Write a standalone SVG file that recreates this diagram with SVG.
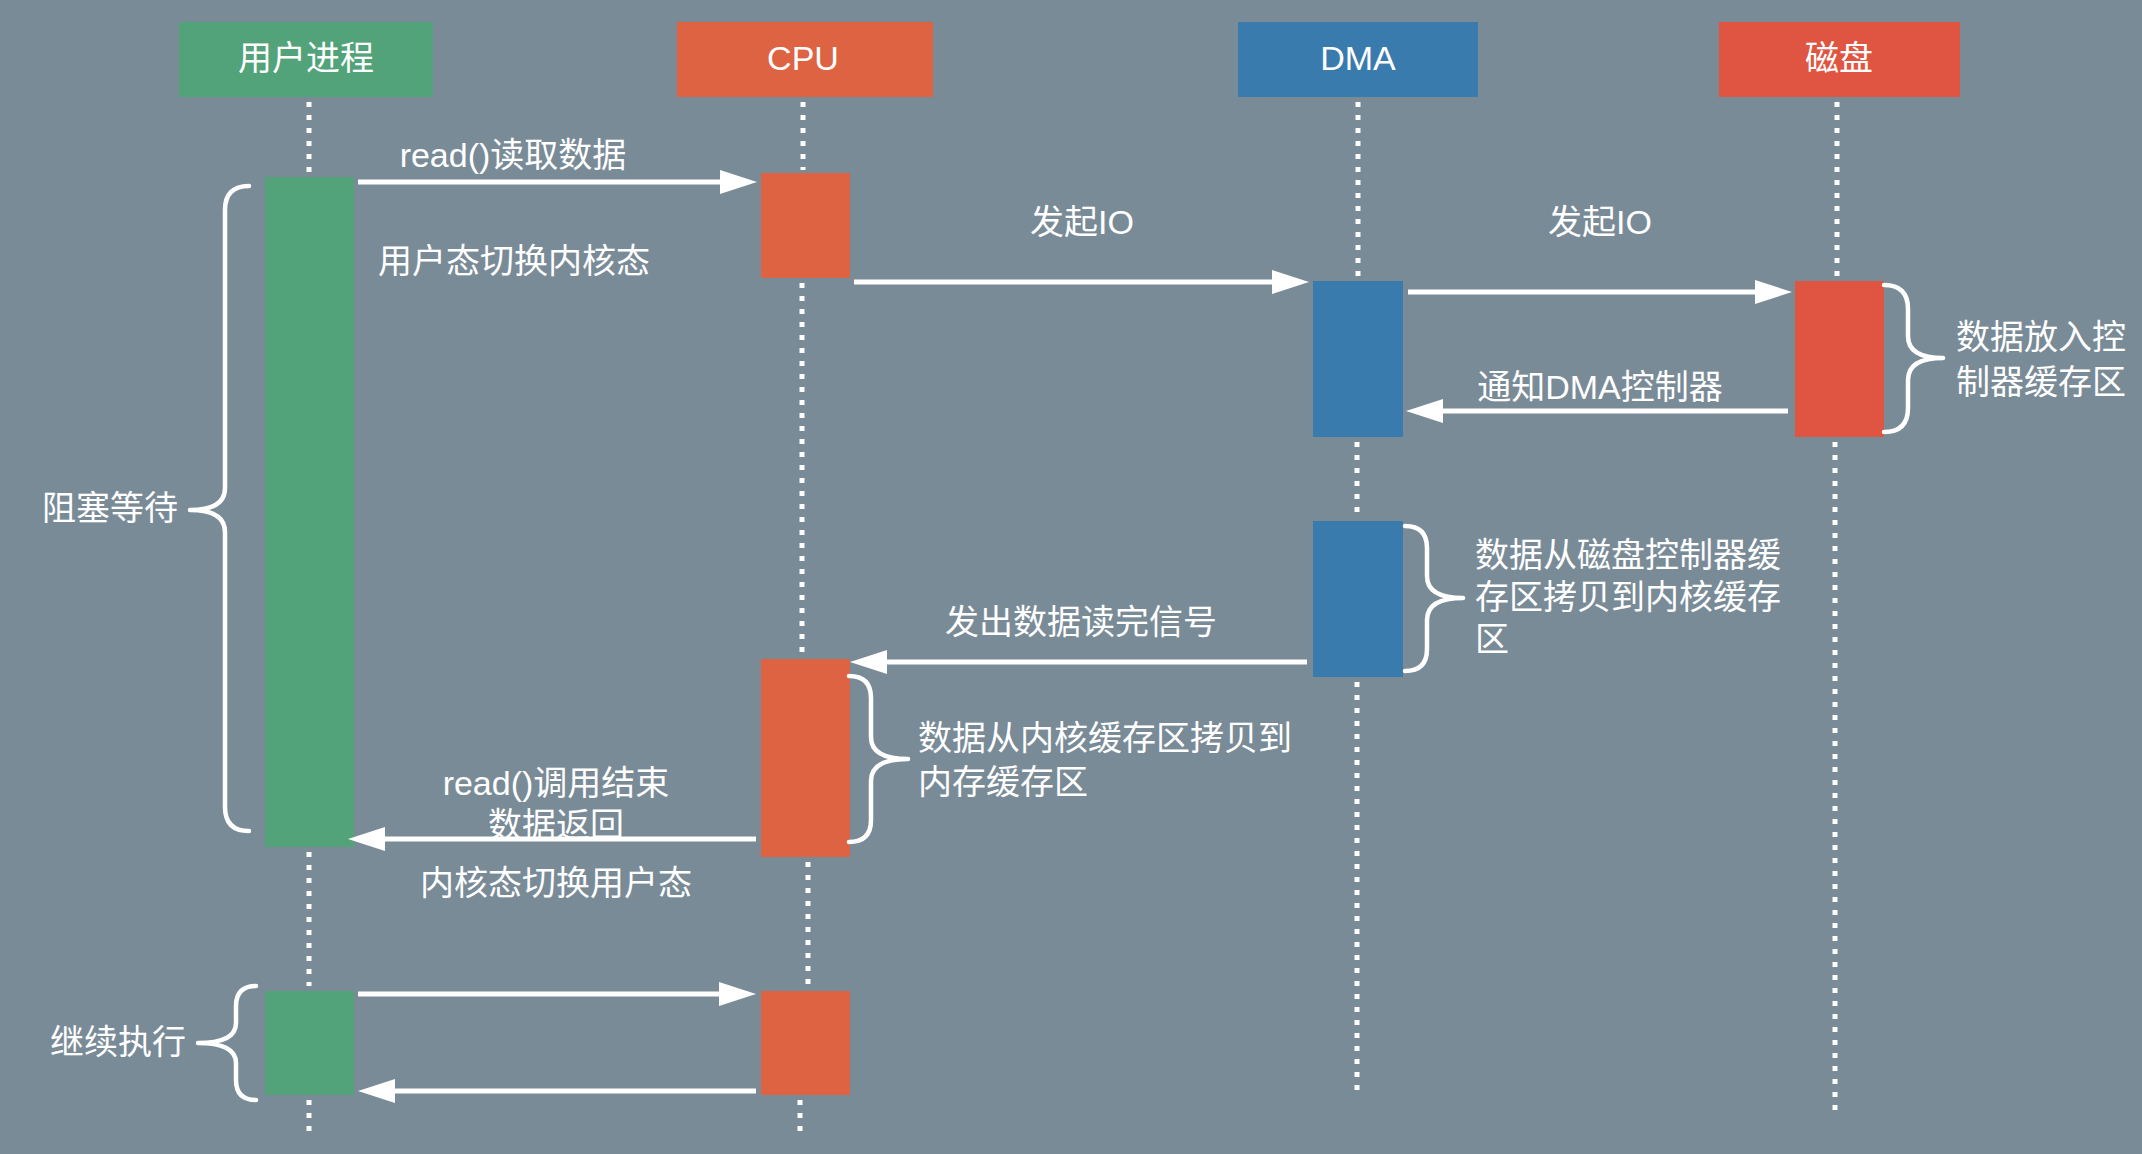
<svg xmlns="http://www.w3.org/2000/svg" width="2142" height="1154" viewBox="0 0 2142 1154">
<style>
.t{font-family:"Liberation Sans","Noto Sans CJK SC",sans-serif;font-size:34px;fill:#ffffff}
.m{text-anchor:middle}
.life{stroke:#ffffff;stroke-width:5;stroke-dasharray:5 8;fill:none}
.arr{stroke:#ffffff;stroke-width:5;fill:none;marker-end:url(#ah)}
.brace{stroke:#ffffff;stroke-width:4.5;fill:none;stroke-linecap:round;stroke-linejoin:round}
.g{fill:#52A27A}.o{fill:#DE6343}.b{fill:#3A7BAD}.r{fill:#E05442}
</style>
<defs>
<marker id="ah" markerUnits="userSpaceOnUse" markerWidth="38" markerHeight="26" refX="0" refY="12" orient="auto" overflow="visible">
<path d="M0,0 L37,12 L0,24 Z" fill="#ffffff"/>
</marker>
</defs>
<rect x="0" y="0" width="2142" height="1154" fill="#7A8B98"/>

<g id="lifelines">
<path class="life" d="M309,102 V172 M309,852 V986 M309,1100 V1132"/>
<path class="life" d="M803,102 V170 M802,283 V656 M808,862 V986 M800,1100 V1132"/>
<path class="life" d="M1358,102 V277 M1357,442 V516 M1357,682 V1092"/>
<path class="life" d="M1837,102 V277 M1835,442 V1114"/>
</g>

<g id="user">
<rect class="g" x="179" y="22" width="254" height="75"/>
<text class="t m" x="306" y="70">用户进程</text>
<rect class="g" x="265" y="177" width="89" height="670"/>
<rect class="g" x="265" y="991" width="89" height="104"/>
</g>
<g id="cpu">
<rect class="o" x="677" y="22" width="256" height="75"/>
<text class="t m" x="803" y="70">CPU</text>
<rect class="o" x="761" y="173" width="89" height="105"/>
<rect class="o" x="761" y="659" width="89" height="198"/>
<rect class="o" x="761" y="991" width="89" height="104"/>
</g>
<g id="dma">
<rect class="b" x="1238" y="22" width="240" height="75"/>
<text class="t m" x="1358" y="70">DMA</text>
<rect class="b" x="1313" y="281" width="90" height="156"/>
<rect class="b" x="1313" y="521" width="90" height="156"/>
</g>
<g id="disk">
<rect class="r" x="1719" y="22" width="241" height="75"/>
<text class="t m" x="1839" y="70">磁盘</text>
<rect class="r" x="1795" y="281" width="89" height="156"/>
</g>

<g id="connectors">
<line class="arr" x1="358" y1="182" x2="720" y2="182"/>
<line class="arr" x1="854" y1="282" x2="1272" y2="282"/>
<line class="arr" x1="1408" y1="292" x2="1755" y2="292"/>
<line class="arr" x1="1788" y1="411" x2="1443" y2="411"/>
<line class="arr" x1="1307" y1="662" x2="887" y2="662"/>
<line class="arr" x1="756" y1="839" x2="385" y2="839"/>
<line class="arr" x1="358" y1="994" x2="719" y2="994"/>
<line class="arr" x1="756" y1="1091" x2="395" y2="1091"/>
</g>

<g id="braces">
<path class="brace" d="M249,186 Q225,186 225,210 L225,488 Q225,510 190,510 Q225,510 225,532 L225,807 Q225,831 249,831"/>
<path class="brace" d="M256,986 Q236,986 236,1006 L236,1023 Q236,1043 198,1043 Q236,1043 236,1063 L236,1080 Q236,1100 256,1100"/>
<path class="brace" d="M1884,285 Q1908,285 1908,309 L1908,336 Q1908,358 1943,358 Q1908,358 1908,380 L1908,408 Q1908,432 1884,432"/>
<path class="brace" d="M1405,526 Q1427,526 1427,548 L1427,576 Q1427,598 1463,598 Q1427,598 1427,620 L1427,649 Q1427,671 1405,671"/>
<path class="brace" d="M849,676 Q871,676 871,698 L871,737 Q871,759 908,759 Q871,759 871,781 L871,820 Q871,842 849,842"/>
</g>

<g id="labels">
<text class="t m" x="513" y="167">read()读取数据</text>
<text class="t m" x="514" y="273">用户态切换内核态</text>
<text class="t m" x="1082" y="234">发起IO</text>
<text class="t m" x="1600" y="234">发起IO</text>
<text class="t m" x="1600" y="399">通知DMA控制器</text>
<text class="t" x="1956" y="349">数据放入控</text>
<text class="t" x="1956" y="394">制器缓存区</text>
<text class="t" x="1475" y="567">数据从磁盘控制器缓</text>
<text class="t" x="1475" y="609">存区拷贝到内核缓存</text>
<text class="t" x="1475" y="651">区</text>
<text class="t m" x="1081" y="634">发出数据读完信号</text>
<text class="t" x="918" y="750">数据从内核缓存区拷贝到</text>
<text class="t" x="918" y="794">内存缓存区</text>
<text class="t m" x="556" y="795">read()调用结束</text>
<text class="t m" x="556" y="837">数据返回</text>
<text class="t m" x="556" y="895">内核态切换用户态</text>
<text class="t m" x="110" y="520">阻塞等待</text>
<text class="t m" x="118" y="1054">继续执行</text>
</g>
</svg>
